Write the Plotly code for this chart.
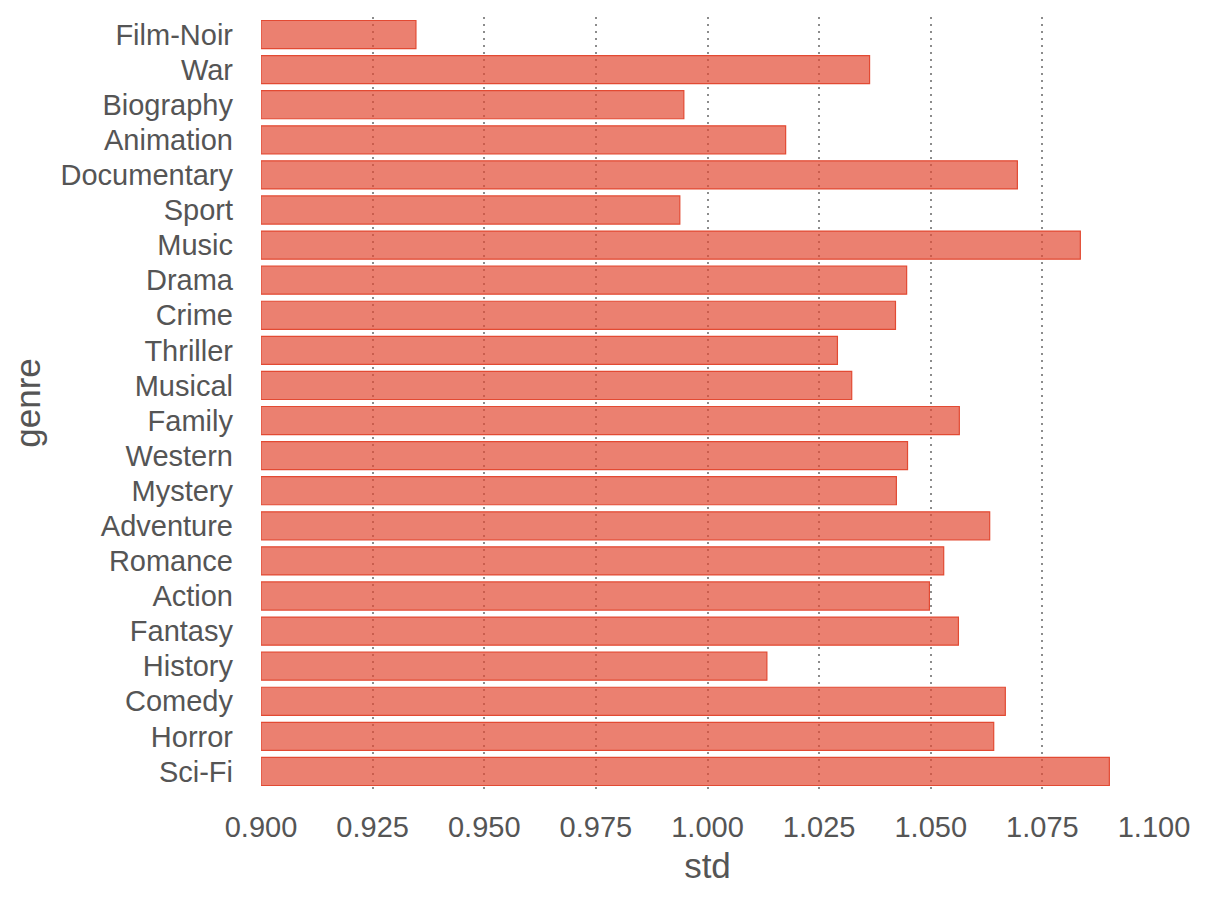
import plotly.graph_objects as go

genres = ["Film-Noir", "War", "Biography", "Animation", "Documentary", "Sport", "Music",
          "Drama", "Crime", "Thriller", "Musical", "Family", "Western", "Mystery",
          "Adventure", "Romance", "Action", "Fantasy", "History", "Comedy", "Horror", "Sci-Fi"]
std_values = [0.9347, 1.0363, 0.9947, 1.0175, 1.0694, 0.9938, 1.0835,
              1.0446, 1.0421, 1.0291, 1.0323, 1.0564, 1.0448, 1.0423,
              1.0632, 1.0529, 1.0497, 1.0562, 1.0133, 1.0667, 1.0641, 1.0900]
x_ticks = [0.900, 0.925, 0.950, 0.975, 1.000, 1.025, 1.050, 1.075, 1.100]
x_tick_labels = [f"{v:.3f}" for v in x_ticks]

base = 0.9
fig = go.Figure(go.Bar(
    y=genres,
    x=[v - base for v in std_values],
    base=base,
    orientation="h",
    width=0.8,
    marker=dict(color="rgba(226,74,51,0.7)", line=dict(color="#E24A33", width=1.2)),
    hoverinfo="skip",
))

font_color = "#555555"
fig.update_layout(
    width=1201, height=894,
    margin=dict(l=253, r=55, t=9, b=113),
    paper_bgcolor="white", plot_bgcolor="white",
    font=dict(family="Liberation Sans, Arial, sans-serif", size=29, color=font_color),
    showlegend=False,
    bargap=0.2,
)
fig.update_xaxes(
    range=[0.9, 1.1], autorange=False, automargin=False,
    tickvals=x_ticks, ticktext=x_tick_labels,
    showgrid=True, gridcolor="rgba(120,120,120,0.85)", gridwidth=2, griddash="2px,5px",
    layer="above traces",
    zeroline=False, showline=False, ticks="",
    ticklabelstandoff=18,
    title=dict(text="std", standoff=11),
)
fig.update_yaxes(
    categoryorder="array", categoryarray=genres,
    range=[21.5, -0.5], autorange=False, automargin=False,
    showgrid=False, zeroline=False, showline=False, ticks="",
    ticklabelstandoff=27,
    title=dict(text="genre", standoff=10),
)
fig.write_html("out.html")
